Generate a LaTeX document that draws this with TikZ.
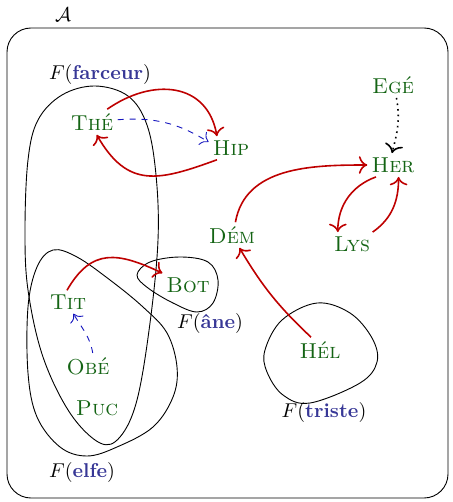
\documentclass[tikz,border=0pt]{standalone}
\usetikzlibrary{arrows.meta}
\definecolor{ngreen}{RGB}{20,100,20}
\definecolor{nblue}{RGB}{55,55,150}
\definecolor{ablue}{RGB}{20,20,190}
\definecolor{nred}{RGB}{190,0,0}
\begin{document}
\begin{tikzpicture}[x=0.5pt,y=0.5pt,
  nm/.style={text=ngreen, inner sep=2pt, font=\fontsize{10.8}{13}\selectfont},
  lbl/.style={inner sep=1pt},
  rarr/.style={-{To[scale=1.25]}, draw=nred, line width=0.8pt},
  barr/.style={-{To[scale=1.4]}, draw=ablue, dashed, line width=0.45pt},
  darr/.style={-{To[scale=1.3]}, draw=black, dotted, line width=0.8pt},
  blob/.style={draw, line width=0.45pt}]
\useasboundingbox (0,0) rectangle (452,-502);
% universe
\draw[line width=0.45pt, rounded corners=12pt] (7,-28) rectangle (448,-498);
\node[lbl] (A) at (63,-15) {$\mathcal{A}$};
% blobs
\draw[blob] plot[smooth cycle, tension=0.6] coordinates {(95,-86) (128,-96) (147,-125) (156,-175) (158,-240) (150,-323) (137,-400) (120,-437) (100,-443) (70,-413) (43,-357) (28,-290) (25,-230) (28,-160) (38,-120) (62,-95)};
\draw[blob] plot[smooth cycle, tension=0.6] coordinates {(53,-250) (37,-267) (28,-307) (28,-373) (37,-417) (60,-447) (87,-456) (117,-447) (153,-427) (173,-397) (177,-367) (167,-333) (143,-307) (110,-280) (77,-257)};
\draw[blob] plot[smooth cycle, tension=0.6] coordinates {(137,-275) (150,-262) (180,-257) (208,-262) (218,-280) (213,-303) (197,-312) (173,-303) (148,-288)};
\draw[blob] plot[smooth cycle, tension=0.6] coordinates {(317,-303) (350,-313) (372,-338) (377,-362) (360,-383) (310,-403) (283,-395) (267,-372) (265,-350) (282,-320)};
% labels
\node[lbl] (Lfar) at (100,-75) {$F(\textcolor{nblue}{\textbf{farceur}})$};
\node[lbl] (Lane) at (210,-323) {$F(\textcolor{nblue}{\textbf{âne}})$};
\node[lbl] (Ltri) at (324,-412) {$F(\textcolor{nblue}{\textbf{triste}})$};
\node[lbl] (Lelf) at (82,-472) {$F(\textcolor{nblue}{\textbf{elfe}})$};
% names
\node[nm] (the) at (92,-122) {\textsc{Thé}};
\node[nm] (hip) at (231,-148) {\textsc{Hip}};
\node[nm] (dem) at (232,-235) {\textsc{Dém}};
\node[nm] (her) at (393,-165) {\textsc{Her}};
\node[nm] (ege) at (393,-85) {\textsc{Egé}};
\node[nm] (lys) at (352,-244) {\textsc{Lys}};
\node[nm] (bot) at (188,-285) {\textsc{Bot}};
\node[nm] (tit) at (68,-302) {\textsc{Tit}};
\node[nm] (obe) at (88,-366) {\textsc{Obé}};
\node[nm] (puc) at (97,-408) {\textsc{Puc}};
\node[nm] (hel) at (320,-350) {\textsc{Hél}};
% arrows
\draw[rarr] (the.40) to[out=35,in=100,looseness=1.25] (hip.140);
\draw[rarr] (hip.220) to[out=200,in=-60,looseness=1.3] (the.290);
\draw[barr] (the.5) to[bend left=18] (hip.165);
\draw[rarr] (dem.75) to[out=80,in=180] (her.west);
\draw[rarr] (her.215) to[out=200,in=90] (lys.140);
\draw[rarr] (lys.30) to[out=35,in=-90] (her.295);
\draw[darr] (ege.285) to[out=-80,in=75] (her.95);
\draw[rarr] (hel.125) to[bend left=8] (dem.300);
\draw[rarr] (tit.95) to[out=60,in=155,looseness=1.3] (bot.155);
\draw[barr] (obe.70) to[out=100,in=-60] (tit.295);
\end{tikzpicture}
\end{document}
